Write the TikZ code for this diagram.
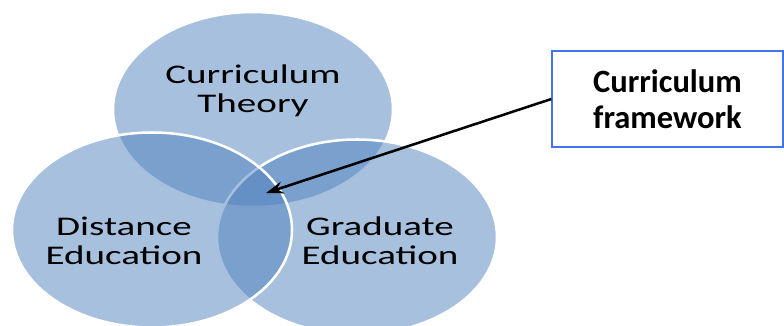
\documentclass[tikz,border=0pt]{standalone}
\usepackage{xcolor}
\usepackage{tikz}
\usepackage{fontspec}
\setmainfont{Carlito}
\newfontfamily\vennfont[FakeStretch=1.45]{Carlito}
\usetikzlibrary{arrows.meta}

\definecolor{vennblue}{RGB}{79,129,189}
\definecolor{framecol}{RGB}{66,116,240}

\tikzset{
  venn/.style={fill=vennblue,fill opacity=0.5,draw=white,draw opacity=1,line width=1.9pt},
  venntext/.style={align=center,inner sep=0.75pt,font=\vennfont\fontsize{20.2}{21.8}\selectfont},
  framebox/.style={draw=framecol,line width=1.2pt,fill=white,minimum width=173pt,minimum height=72pt,align=center,font=\bfseries\fontsize{24.4}{27}\selectfont},
  pointer/.style={-{Stealth[length=13pt,width=9pt]},line width=1.9pt}
}

\begin{document}
\begin{tikzpicture}[x=0.75pt,y=0.75pt,yscale=-1,xscale=1]
\useasboundingbox (0,0) rectangle (784,325);
\clip (0,0) rectangle (784,325);

%Shape: Ellipse [top]
\draw[venn] (253,109.5) ellipse (140 and 97.5);
%Shape: Ellipse [right]
\draw[venn] (357,237) ellipse (140 and 97.5);
%Shape: Ellipse [left]
\draw[venn] (152,230) ellipse (140 and 97.5);

% Text Node
\node[venntext] (theory) at (253,91) {Curriculum\\Theory};
% Text Node
\node[venntext] (distance) at (124,241) {Distance\\Education};
% Text Node
\node[venntext] (graduate) at (380,241) {Graduate\\Education};

% Text Node
\node[framebox] (frame) at (667.5,99) {Curriculum\\framework};

\coordinate (core) at (266,193);
\draw[pointer] (frame.west) -- (core);

\end{tikzpicture}
\end{document}
